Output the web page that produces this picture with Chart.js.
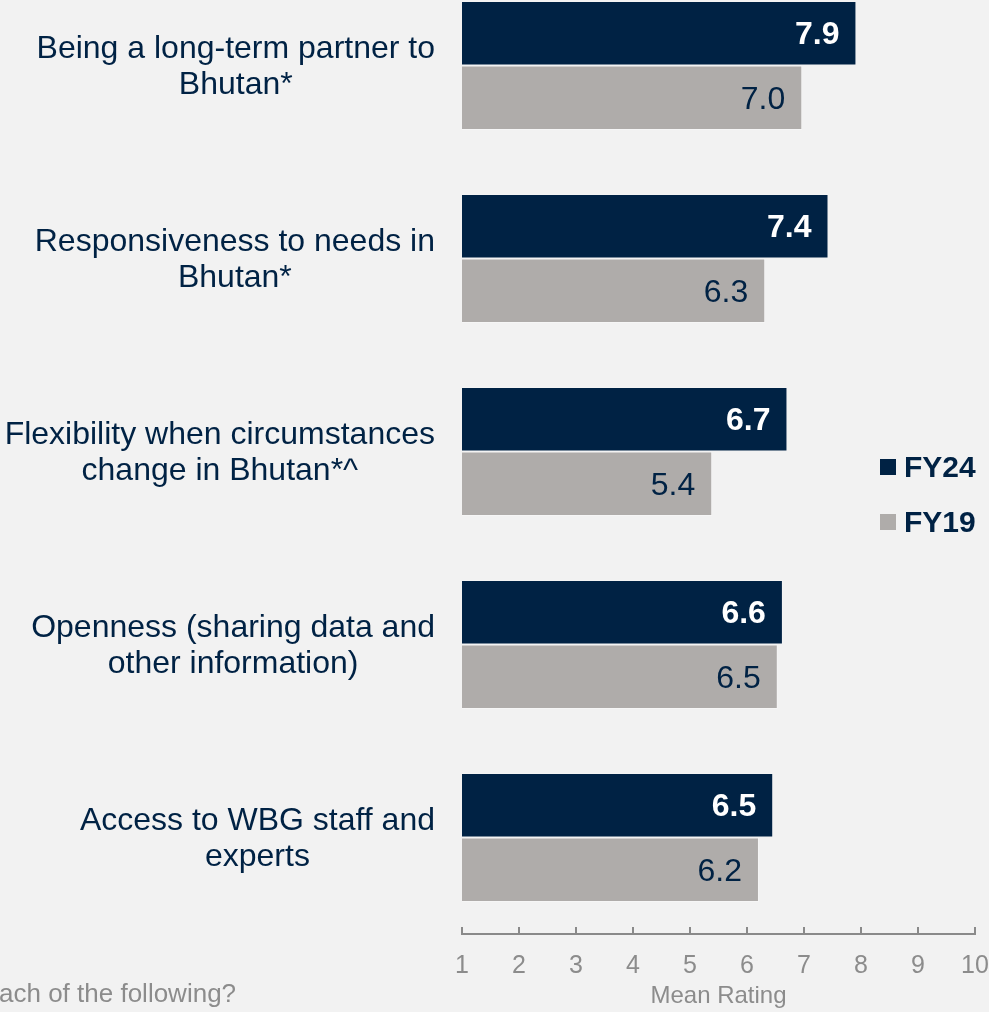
<!DOCTYPE html>
<html>
<head>
<meta charset="utf-8">
<script src="https://cdn.jsdelivr.net/npm/chart.js@4"></script>
<style>
  html, body { margin: 0; padding: 0; background: #f2f2f2; overflow: hidden; }
  #wrap { position: absolute; left: 0; top: -31px; width: 989px; height: 1043px; }
</style>
</head>
<body>
<div id="wrap"><canvas id="chartRating"></canvas></div>
<script>
// categorias y valores
const categorias = [
  ["Being a long-term partner to", "Bhutan*"],
  ["Responsiveness to needs in", "Bhutan*"],
  ["Flexibility when circumstances", "change in Bhutan*^"],
  ["Openness (sharing data and", "other information)"],
  ["Access to WBG staff and", "experts"]
];
const fy24 = [7.92, 7.43, 6.71, 6.63, 6.46];
const fy19 = [6.97, 6.32, 5.39, 6.54, 6.21];
const serieNombres = ["FY24", "FY19"];
const ejeTicks = [1, 2, 3, 4, 5, 6, 7, 8, 9, 10];
const ejeTitulo = "Mean Rating";
const notaPie = "ach of the following?";

const NAVY = "#002244";
const GRIS = "#afacaa";
const FUENTE = "'Liberation Sans', Arial, sans-serif";
const OFFSET_Y = 31; // canvas desplazado hacia arriba

// etiquetas de categoria, valores, marcas del eje y leyenda
const extras = {
  id: "extras",
  afterDraw(chart) {
    const ctx = chart.ctx;
    const x = chart.scales.x;
    const y = chart.scales.y;
    ctx.save();

    // marcas del eje hacia arriba
    ctx.strokeStyle = "#8a8a8a";
    ctx.lineWidth = 2;
    const base = chart.chartArea.bottom;
    ejeTicks.forEach((t) => {
      const px = Math.round(x.getPixelForValue(t));
      ctx.beginPath();
      ctx.moveTo(px, base);
      ctx.lineTo(px, base - 7);
      ctx.stroke();
    });

    // etiquetas de categoria (bloque centrado, alineado a la derecha)
    ctx.font = "32px " + FUENTE;
    ctx.fillStyle = NAVY;
    ctx.textAlign = "center";
    ctx.textBaseline = "alphabetic";
    categorias.forEach((lineas, i) => {
      const cy = y.getPixelForValue(i);
      const anchoMax = Math.max(...lineas.map((l) => ctx.measureText(l).width));
      const cx = 435 - anchoMax / 2;
      lineas.forEach((l, j) => {
        ctx.fillText(l, cx, cy - 8 + j * 36);
      });
    });

    // valores dentro de las barras
    ctx.textAlign = "right";
    chart.data.datasets.forEach((ds, di) => {
      const meta = chart.getDatasetMeta(di);
      ctx.font = (di === 0 ? "bold " : "") + "32px " + FUENTE;
      ctx.fillStyle = di === 0 ? "#ffffff" : NAVY;
      meta.data.forEach((bar, i) => {
        ctx.fillText(ds.data[i].toFixed(1), bar.x - 17, bar.y + 11);
      });
    });

    // leyenda
    const leyY = [467 + OFFSET_Y, 522 + OFFSET_Y];
    chart.data.datasets.forEach((ds, di) => {
      ctx.fillStyle = ds.backgroundColor;
      ctx.fillRect(880, leyY[di] - 8, 16, 16);
      ctx.font = "bold 30px " + FUENTE;
      ctx.fillStyle = NAVY;
      ctx.textAlign = "left";
      ctx.fillText(ds.label, 904, leyY[di] + 10);
    });

    // nota al pie (cortada en el original)
    ctx.font = "26px " + FUENTE;
    ctx.fillStyle = "#8c8c8c";
    ctx.textAlign = "left";
    ctx.fillText(notaPie, -1, 1002 + OFFSET_Y);

    ctx.restore();
  }
};

new Chart(document.getElementById("chartRating").getContext("2d"), {
  type: "bar",
  data: {
    labels: categorias,
    datasets: [
      {
        label: serieNombres[0],
        data: fy24,
        backgroundColor: NAVY,
        borderColor: "rgba(255,255,255,0.2)",
        borderWidth: 1,
        categoryPercentage: 0.668,
        barPercentage: 1
      },
      {
        label: serieNombres[1],
        data: fy19,
        backgroundColor: GRIS,
        borderColor: "rgba(255,255,255,0.3)",
        borderWidth: 1,
        categoryPercentage: 0.668,
        barPercentage: 1
      }
    ]
  },
  options: {
    indexAxis: "y",
    responsive: true,
    maintainAspectRatio: false,
    animation: false,
    layout: { padding: { left: 462, right: 14, top: 0, bottom: 0 } },
    plugins: {
      legend: { display: false },
      tooltip: { enabled: false }
    },
    scales: {
      y: { display: false },
      x: {
        min: 1,
        max: 10,
        afterBuildTicks: (scale) => {
          scale.ticks = ejeTicks.map((v) => ({ value: v }));
        },
        afterFit: (scale) => {
          scale.height = 78;
          scale.paddingLeft = 0;
          scale.paddingRight = 0;
        },
        grid: { display: false, drawTicks: false },
        border: { display: true, color: "#8a8a8a", width: 2 },
        ticks: {
          color: "#8c8c8c",
          padding: 17,
          font: { family: FUENTE, size: 25 }
        },
        title: {
          display: true,
          text: ejeTitulo,
          color: "#8c8c8c",
          padding: { top: 0, bottom: 1 },
          font: { family: FUENTE, size: 24 }
        }
      }
    }
  },
  plugins: [extras]
});
</script>
</body>
</html>
